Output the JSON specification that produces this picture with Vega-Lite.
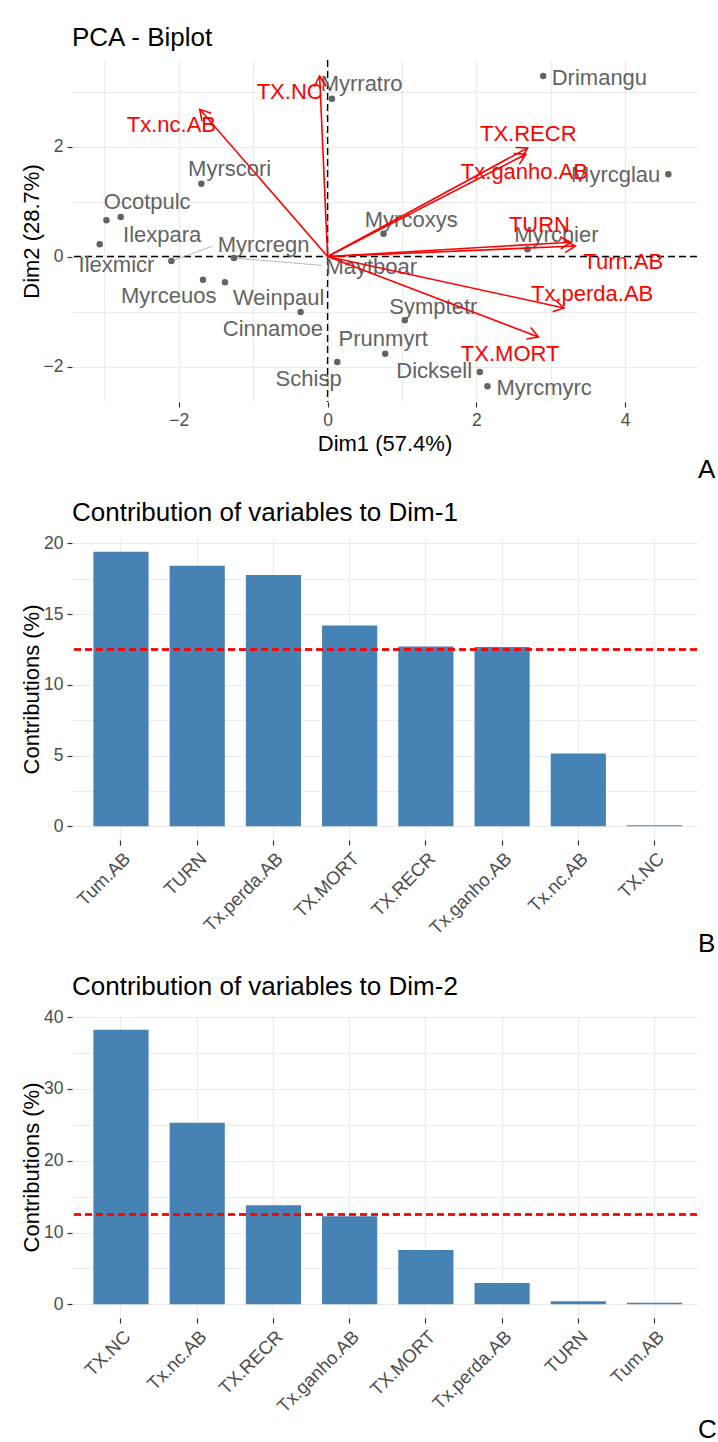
{
  "$schema": "https://vega.github.io/schema/vega-lite/v6.json",
  "background": "white",
  "padding": {"left": 20, "top": 24, "right": 0, "bottom": 0},
  "spacing": 16,
  "config": {
    "font": "Liberation Sans",
    "view": {"stroke": null},
    "axis": {"domain": false, "gridColor": "#EBEBEB", "gridWidth": 1.2, "tickColor": "#333333", "tickWidth": 1.2, "tickSize": 5, "labelColor": "#4D4D4D", "labelFontSize": 17.5, "titleFontSize": 22, "titleFontWeight": "normal", "titleColor": "#000000", "labelFont": "Liberation Sans", "titleFont": "Liberation Sans"},
    "title": {"fontWeight": "normal", "color": "#000000", "fontSize": 26, "font": "Liberation Sans"},
    "text": {"font": "Liberation Sans"}
  },
  "datasets": {
    "ind": [
      {"name": "Drimangu", "x": 2.898, "y": 3.282, "lx": 3.654, "ly": 3.245},
      {"name": "Myrratro", "x": 0.058, "y": 2.869, "lx": 0.457, "ly": 3.14},
      {"name": "Myrscori", "x": -1.697, "y": 1.324, "lx": -1.317, "ly": 1.597},
      {"name": "Ocotpulc", "x": -2.973, "y": 0.658, "lx": -2.425, "ly": 0.991},
      {"name": "Ilexpara", "x": -2.781, "y": 0.718, "lx": -2.223, "ly": 0.396},
      {"name": "Ilexmicr", "x": -3.063, "y": 0.222, "lx": -2.838, "ly": -0.16},
      {"name": "Myrcregn", "x": -2.1, "y": -0.082, "lx": -0.86, "ly": 0.215, "sx": -1.541, "sy": 0.191},
      {"name": "Maytboar", "x": -1.259, "y": -0.027, "lx": 0.587, "ly": -0.191, "sx": -0.085, "sy": -0.16},
      {"name": "Myrceuos", "x": -1.675, "y": -0.422, "lx": -2.136, "ly": -0.718},
      {"name": "Weinpaul", "x": -1.38, "y": -0.469, "lx": -0.658, "ly": -0.755},
      {"name": "Cinnamoe", "x": -0.363, "y": -1.009, "lx": -0.735, "ly": -1.324},
      {"name": "Schisp", "x": 0.13, "y": -1.918, "lx": -0.255, "ly": -2.222},
      {"name": "Prunmyrt", "x": 0.775, "y": -1.767, "lx": 0.748, "ly": -1.495},
      {"name": "Symptetr", "x": 1.038, "y": -1.16, "lx": 1.422, "ly": -0.918},
      {"name": "Dicksell", "x": 2.046, "y": -2.1, "lx": 1.433, "ly": -2.082},
      {"name": "Myrcmyrc", "x": 2.149, "y": -2.36, "lx": 2.911, "ly": -2.385},
      {"name": "Myrchier", "x": 2.687, "y": 0.131, "lx": 3.076, "ly": 0.385},
      {"name": "Myrcoxys", "x": 0.752, "y": 0.415, "lx": 1.124, "ly": 0.658},
      {"name": "Myrcglau", "x": 4.581, "y": 1.495, "lx": 3.873, "ly": 1.476}
    ],
    "vars": [
      {"name": "TX.NC", "x": -0.107, "y": 3.282, "lx": -0.51, "ly": 2.991},
      {"name": "Tx.nc.AB", "x": -1.719, "y": 2.676, "lx": -2.1, "ly": 2.385},
      {"name": "TX.RECR", "x": 2.69, "y": 1.975, "lx": 2.698, "ly": 2.233},
      {"name": "Tx.ganho.AB", "x": 2.665, "y": 1.86, "lx": 2.646, "ly": 1.536},
      {"name": "TURN", "x": 3.27, "y": 0.26, "lx": 2.848, "ly": 0.567},
      {"name": "Turn.AB", "x": 3.33, "y": 0.19, "lx": 3.974, "ly": -0.1},
      {"name": "Tx.perda.AB", "x": 3.18, "y": -0.936, "lx": 3.556, "ly": -0.676},
      {"name": "TX.MORT", "x": 2.834, "y": -1.464, "lx": 2.454, "ly": -1.767}
    ],
    "c1": [
      {"var": "Tum.AB", "contrib": 19.41},
      {"var": "TURN", "contrib": 18.42},
      {"var": "Tx.perda.AB", "contrib": 17.76},
      {"var": "TX.MORT", "contrib": 14.2},
      {"var": "TX.RECR", "contrib": 12.71},
      {"var": "Tx.ganho.AB", "contrib": 12.67},
      {"var": "Tx.nc.AB", "contrib": 5.15},
      {"var": "TX.NC", "contrib": 0.07}
    ],
    "c2": [
      {"var": "TX.NC", "contrib": 38.25},
      {"var": "Tx.nc.AB", "contrib": 25.3},
      {"var": "TX.RECR", "contrib": 13.8},
      {"var": "Tx.ganho.AB", "contrib": 12.28},
      {"var": "TX.MORT", "contrib": 7.58},
      {"var": "Tx.perda.AB", "contrib": 2.98},
      {"var": "TURN", "contrib": 0.42},
      {"var": "Tum.AB", "contrib": 0.23}
    ]
  },
  "vconcat": [
    {
      "title": {"text": "A", "orient": "bottom", "anchor": "start", "frame": "group", "dx": 626, "offset": 2},
      "vconcat": [
        {
          "width": 625,
          "height": 342,
          "title": {"text": "PCA - Biplot", "anchor": "start", "frame": "group", "offset": 8.5},
          "resolve": {"axis": {"x": "independent", "y": "independent"}},
          "layer": [
            {
              "data": {"values": [{}]},
              "mark": {"type": "rule", "color": "black", "strokeDash": [7, 4], "strokeWidth": 1.4},
              "encoding": {
                "x": {"datum": 0, "type": "quantitative", "scale": {"domain": [-3.436, 4.966], "nice": false, "zero": false},
                  "axis": {"orient": "top", "values": [-3, -1, 1, 3], "labels": false, "ticks": false, "title": null, "grid": true, "gridWidth": 1}}
              }
            },
            {
              "data": {"values": [{}]},
              "mark": {"type": "rule", "color": "black", "strokeDash": [7, 4], "strokeWidth": 1.4},
              "encoding": {
                "y": {"datum": 0, "type": "quantitative", "scale": {"domain": [-2.645, 3.573], "nice": false, "zero": false},
                  "axis": {"orient": "right", "values": [-1, 1, 3], "labels": false, "ticks": false, "title": null, "grid": true, "gridWidth": 1}}
              }
            },
            {
              "data": {"name": "ind"},
              "transform": [{"filter": "isValid(datum.sx)"}],
              "mark": {"type": "rule", "color": "#9A9A9A", "strokeWidth": 0.7},
              "encoding": {
                "x": {"field": "x", "type": "quantitative", "axis": null},
                "y": {"field": "y", "type": "quantitative", "axis": null},
                "x2": {"field": "sx"},
                "y2": {"field": "sy"}
              }
            },
            {
              "data": {"name": "ind"},
              "mark": {"type": "circle", "color": "#636363", "opacity": 1, "size": 42},
              "encoding": {
                "x": {"field": "x", "type": "quantitative",
                  "axis": {"values": [-2, 0, 2, 4], "title": "Dim1 (57.4%)", "grid": true, "labelPadding": 4, "titlePadding": 5}},
                "y": {"field": "y", "type": "quantitative",
                  "axis": {"values": [-2, 0, 2], "title": "Dim2 (28.7%)", "grid": true, "labelPadding": 4, "titlePadding": 0}}
              }
            },
            {
              "data": {"name": "ind"},
              "mark": {"type": "text", "color": "#636363", "fontSize": 22, "baseline": "middle", "align": "center"},
              "encoding": {
                "x": {"field": "lx", "type": "quantitative", "axis": null},
                "y": {"field": "ly", "type": "quantitative", "axis": null},
                "text": {"field": "name"}
              }
            },
            {
              "data": {"name": "vars"},
              "mark": {"type": "rule", "color": "#FF0000", "strokeWidth": 1.6},
              "encoding": {
                "x": {"field": "x", "type": "quantitative", "axis": null},
                "y": {"field": "y", "type": "quantitative", "axis": null},
                "x2": {"datum": 0},
                "y2": {"datum": 0}
              }
            },
            {
              "data": {"name": "vars"},
              "transform": [{"calculate": "atan2(-datum.y * 55.0, datum.x * 74.39) * 180 / PI", "as": "ang"}],
              "mark": {"type": "point", "shape": "M-1,-0.58L0,0L-1,0.58", "filled": false, "stroke": "#FF0000", "strokeWidth": 1.6, "size": 440, "opacity": 1},
              "encoding": {
                "x": {"field": "x", "type": "quantitative", "axis": null},
                "y": {"field": "y", "type": "quantitative", "axis": null},
                "angle": {"field": "ang", "type": "quantitative", "scale": null}
              }
            },
            {
              "data": {"name": "vars"},
              "mark": {"type": "text", "color": "#FF0000", "fontSize": 22, "baseline": "middle", "align": "center"},
              "encoding": {
                "x": {"field": "lx", "type": "quantitative", "axis": null},
                "y": {"field": "ly", "type": "quantitative", "axis": null},
                "text": {"field": "name"}
              }
            }
          ]
        }
      ]
    },
    {
      "title": {"text": "B", "orient": "bottom", "anchor": "start", "frame": "group", "dx": 626, "offset": -7},
      "vconcat": [
        {
          "width": 625,
          "height": 302,
          "title": {"text": "Contribution of variables to Dim-1", "anchor": "start", "frame": "group", "offset": 8.5},
          "data": {"name": "c1"},
          "resolve": {"axis": {"y": "independent"}},
          "layer": [
            {
              "mark": {"type": "bar", "color": "#4682B4"},
              "encoding": {
                "x": {"field": "var", "type": "nominal", "sort": null, "scale": {"paddingInner": 0.276, "paddingOuter": 0.238, "align": 0.59},
                  "axis": {"title": null, "labelAngle": -45, "labelFontSize": 18.5, "grid": true, "gridWidth": 1.2, "labelPadding": 4}},
                "y": {"field": "contrib", "type": "quantitative", "scale": {"domain": [-0.97, 20.38], "nice": false, "zero": false},
                  "axis": {"values": [0, 5, 10, 15, 20], "title": "Contributions (%)", "grid": true, "labelPadding": 4, "titlePadding": 0}},
                "y2": {"datum": 0}
              }
            },
            {
              "mark": {"type": "rule", "color": "#FF0000", "strokeDash": [7, 4], "strokeWidth": 1.5},
              "encoding": {
                "y": {"datum": 12.5, "type": "quantitative",
                  "axis": {"orient": "right", "values": [2.5, 7.5, 12.5, 17.5], "labels": false, "ticks": false, "title": null, "grid": true, "gridWidth": 1}}
              }
            }
          ]
        }
      ]
    },
    {
      "title": {"text": "C", "orient": "bottom", "anchor": "start", "frame": "group", "dx": 626, "offset": 1},
      "vconcat": [
        {
          "width": 625,
          "height": 302,
          "title": {"text": "Contribution of variables to Dim-2", "anchor": "start", "frame": "group", "offset": 8.5},
          "data": {"name": "c2"},
          "resolve": {"axis": {"y": "independent"}},
          "layer": [
            {
              "mark": {"type": "bar", "color": "#4682B4"},
              "encoding": {
                "x": {"field": "var", "type": "nominal", "sort": null, "scale": {"paddingInner": 0.276, "paddingOuter": 0.238, "align": 0.59},
                  "axis": {"title": null, "labelAngle": -45, "labelFontSize": 18.5, "grid": true, "gridWidth": 1.2, "labelPadding": 4}},
                "y": {"field": "contrib", "type": "quantitative", "scale": {"domain": [-1.91, 40.16], "nice": false, "zero": false},
                  "axis": {"values": [0, 10, 20, 30, 40], "title": "Contributions (%)", "grid": true, "labelPadding": 4, "titlePadding": 0}},
                "y2": {"datum": 0}
              }
            },
            {
              "mark": {"type": "rule", "color": "#FF0000", "strokeDash": [7, 4], "strokeWidth": 1.5},
              "encoding": {
                "y": {"datum": 12.5, "type": "quantitative",
                  "axis": {"orient": "right", "values": [5, 15, 25, 35], "labels": false, "ticks": false, "title": null, "grid": true, "gridWidth": 1}}
              }
            }
          ]
        }
      ]
    }
  ]
}
